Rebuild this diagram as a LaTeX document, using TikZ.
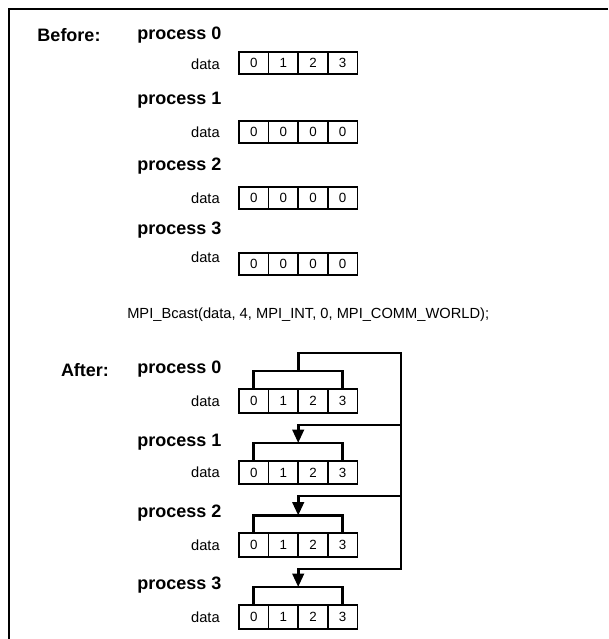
\documentclass[tikz,border=0pt]{standalone}
\usepackage{fontspec}
\setmainfont{Liberation Sans}
\usetikzlibrary{arrows.meta}

\newcommand{\procfont}{\fontsize{13.5}{16}\selectfont\bfseries}
\newcommand{\datafont}{\fontsize{11}{13}\selectfont}
\newcommand{\cellfont}{\fontsize{10}{12}\selectfont}

\begin{document}
\begin{tikzpicture}[
        x=0.75pt, y=-0.75pt,
        cell/.style={draw, line width=1.2pt, minimum width=22.2pt, minimum height=16.5pt,
          inner sep=0pt, outer sep=0pt, font=\cellfont},
        proc/.style={anchor=west, inner sep=0pt, font=\procfont},
        dlabel/.style={anchor=east, inner sep=0pt, font=\datafont},
        head/.style={inner sep=0pt, font=\procfont},
        bracket/.style={line width=2.1pt},
        bus/.style={line width=2.1pt, -{Triangle[length=10pt, width=8.5pt]}}
        ]
      \useasboundingbox (0,0) rectangle (608,639);
      \draw[line width=1.6pt] (608,9) -- (9,9) -- (9,639);

      % before the call
      \node[head] (before) at (69,35) {Before:};
      \node[proc] (bp0) at (137,35) {process 0};
      \node[proc] (bp1) at (137,100) {process 1};
      \node[proc] (bp2) at (137,166) {process 2};
      \node[proc] (bp3) at (137,230) {process 3};
      \node[dlabel] (bd0) at (220,64) {data};
      \node[dlabel] (bd1) at (220,132) {data};
      \node[dlabel] (bd2) at (220,198) {data};
      \node[dlabel] (bd3) at (220,257) {data};
      \foreach \r/\y in {0/63,1/132,2/198,3/264}
        \foreach \i in {0,...,3}
          \node[cell] (b\r\i) at (253.8+29.6*\i,\y) {\ifnum\r=0 \i\else 0\fi};

      \node[anchor=west, inner sep=0pt, font=\datafont] (call) at (127,315)
        {MPI\_Bcast(data, 4, MPI\_INT, 0, MPI\_COMM\_WORLD);};

      % after the call
      \node[head] (after) at (85,370) {After:};
      \node[proc] (ap0) at (137,369) {process 0};
      \node[proc] (ap1) at (137,442) {process 1};
      \node[proc] (ap2) at (137,513) {process 2};
      \node[proc] (ap3) at (137,585) {process 3};
      \node[dlabel] (ad0) at (220,401) {data};
      \node[dlabel] (ad1) at (220,472.5) {data};
      \node[dlabel] (ad2) at (220,545) {data};
      \node[dlabel] (ad3) at (220,617) {data};
      \foreach \r/\y in {0/401,1/472.5,2/545,3/617}
        \foreach \i in {0,...,3}
          \node[cell, minimum height=17.6pt] (a\r\i) at (253.8+29.6*\i,\y) {\i};

      \coordinate (bk0) at (298.2,371);
      \coordinate (bk1) at (298.2,443);
      \coordinate (bk2) at (298.2,515.5);
      \coordinate (bk3) at (298.2,587);
      \coordinate (top) at (401,353);
      \coordinate (turn) at (401,569);
      \coordinate (tap1) at (401,425);
      \coordinate (tap2) at (401,496);

      \draw[bracket] (a00.north) |- (bk0) -| (a03.north);
      \draw[bracket] (a10.north) |- (bk1) -| (a13.north);
      \draw[bracket] (a20.north) |- (bk2) -| (a23.north);
      \draw[bracket] (a30.north) |- (bk3) -| (a33.north);

      \draw[bus] (bk0) |- (top) -- (turn) -| (bk3);
      \draw[bus] (tap1) -| (bk1);
      \draw[bus] (tap2) -| (bk2);
    \end{tikzpicture}
\end{document}
